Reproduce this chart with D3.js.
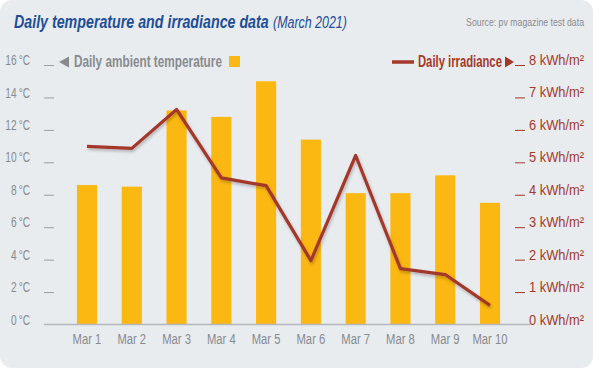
<html>
<head>
	<script src="https://d3js.org/d3.v7.min.js"></script>
</head>
<body>
	<style> *{
		margin: 0px;
		padding: 0px;
	}
	body { background: #ffffff; }
	text { font-family: "Liberation Sans", Arial, sans-serif; }
	</style>

	<svg id="chart" width="600" height="370" xmlns="http://www.w3.org/2000/svg"></svg>

	<script>
	// data
	var days = ["Mar 1", "Mar 2", "Mar 3", "Mar 4", "Mar 5", "Mar 6", "Mar 7", "Mar 8", "Mar 9", "Mar 10"];
	var temperature = [8.6, 8.5, 13.2, 12.8, 15.0, 11.4, 8.1, 8.1, 9.2, 7.5];
	var irradiance = [5.49, 5.43, 6.63, 4.52, 4.28, 1.97, 5.21, 1.72, 1.54, 0.59];
	var tempTicks = [0, 2, 4, 6, 8, 10, 12, 14, 16];
	var irrTicks = [0, 1, 2, 3, 4, 5, 6, 7, 8];

	var barColor = "#fcb812", lineColor = "#a3392a", grayText = "#878b8f";

	var svg = d3.select( "#chart" );

	// squeeze text horizontally (the original uses a condensed font),
	// keeping its anchor point in place
	function squeeze( selection, factor ) {
		selection.each( function() {
			var t = d3.select( this );
			var x0 = Number( t.attr( "x" ) ) || 0;
			t.attr( "x", x0 / factor ).attr( "transform", "scale(" + factor + ",1)" );
		} );
	}
	function fitWidth( selection, width ) {
		selection.each( function() {
			squeeze( d3.select( this ), width / this.getComputedTextLength() );
		} );
	}

	// shadow for the irradiance line
	var defs = svg.append( "defs" );
	var shadow = defs.append( "filter" ).attr( "id", "shadow" )
		.attr( "x", "-10%" ).attr( "y", "-10%" ).attr( "width", "120%" ).attr( "height", "130%" );
	shadow.append( "feDropShadow" )
		.attr( "dx", 1 ).attr( "dy", 2 ).attr( "stdDeviation", 1.5 )
		.attr( "flood-color", "#000" ).attr( "flood-opacity", 0.25 );

	// card background
	svg.append( "rect" )
		.attr( "x", 0 ).attr( "y", 0 )
		.attr( "width", 593 ).attr( "height", 368 )
		.attr( "rx", 12 )
		.attr( "fill", "#e9ecef" );

	// scales
	var x = d3.scaleBand()
		.domain( days )
		.range( [64.6, 512.4] )
		.paddingInner( 0.55 )
		.paddingOuter( 0.275 );
	var yTemp = d3.scaleLinear().domain( [0, 16] ).range( [324.5, 65] );
	var yIrr = d3.scaleLinear().domain( [0, 8] ).range( [324.5, 65] );

	// title and source
	svg.append( "text" )
		.attr( "x", 14 ).attr( "y", 28 )
		.attr( "font-size", 17.5 )
		.attr( "font-style", "italic" )
		.attr( "font-weight", "bold" )
		.attr( "fill", "#1d4f96" )
		.text( "Daily temperature and irradiance data" )
		.call( fitWidth, 255 );
	svg.append( "text" )
		.attr( "x", 273 ).attr( "y", 28 )
		.attr( "font-size", 17 )
		.attr( "font-style", "italic" )
		.attr( "fill", "#1d4f96" )
		.text( "(March 2021)" )
		.call( fitWidth, 74 );

	svg.append( "text" )
		.attr( "x", 584 ).attr( "y", 26 )
		.attr( "text-anchor", "end" )
		.attr( "font-size", 11 )
		.attr( "fill", grayText )
		.text( "Source: pv magazine test data" )
		.call( fitWidth, 118 );

	// bars
	svg.append( "g" ).selectAll( "rect" )
		.data( days )
		.enter().append( "rect" )
		.attr( "x", function( d ) { return x( d ); } )
		.attr( "y", function( d, i ) { return yTemp( temperature[i] ); } )
		.attr( "width", x.bandwidth() )
		.attr( "height", function( d, i ) { return yTemp( 0 ) - yTemp( temperature[i] ); } )
		.attr( "fill", barColor );

	// baseline
	svg.append( "line" )
		.attr( "x1", 44 ).attr( "x2", 530 )
		.attr( "y1", yTemp( 0 ) ).attr( "y2", yTemp( 0 ) )
		.attr( "stroke", "#b4b8bc" ).attr( "stroke-width", 1.5 );

	// left axis (temperature)
	var leftAxis = svg.append( "g" )
		.attr( "transform", "translate(54,0)" )
		.call( d3.axisLeft( yTemp ).tickValues( tempTicks ).tickSize( 10 ).tickPadding( 14 )
			.tickFormat( function( d ) { return d + "\u2009°C"; } ) );
	leftAxis.select( ".domain" ).remove();
	leftAxis.selectAll( "line" ).attr( "stroke", "#9a9ea2" )
		.attr( "display", function( d ) { return d == 0 ? "none" : null; } );
	leftAxis.selectAll( "text" )
		.attr( "dy", "0.25em" ).attr( "y", -4 )
		.attr( "font-size", 14.5 )
		.attr( "fill", grayText )
		.attr( "font-family", null )
		.call( squeeze, 0.7 );

	// right axis (irradiance)
	var rightAxis = svg.append( "g" )
		.attr( "transform", "translate(515,0)" )
		.call( d3.axisRight( yIrr ).tickValues( irrTicks ).tickSize( 10 ).tickPadding( 4 )
			.tickFormat( function( d ) { return d + " kWh/m²"; } ) );
	rightAxis.select( ".domain" ).remove();
	rightAxis.selectAll( "line" ).attr( "stroke", lineColor )
		.attr( "display", function( d ) { return d == 0 ? "none" : null; } );
	rightAxis.selectAll( "text" )
		.attr( "dy", "0.25em" ).attr( "y", -4 )
		.attr( "font-size", 14 )
		.attr( "fill", lineColor )
		.attr( "font-family", null )
		.call( fitWidth, 55 );

	// x axis labels
	svg.append( "g" ).selectAll( "text" )
		.data( days )
		.enter().append( "text" )
		.attr( "x", function( d ) { return x( d ) + x.bandwidth() / 2; } )
		.attr( "y", 344 )
		.attr( "text-anchor", "middle" )
		.attr( "font-size", 15 )
		.attr( "fill", grayText )
		.text( function( d ) { return d; } )
		.call( squeeze, 0.75 );

	// irradiance line
	var line = d3.line()
		.x( function( d, i ) { return x( days[i] ) + x.bandwidth() / 2; } )
		.y( function( d ) { return yIrr( d ); } );
	svg.append( "path" )
		.datum( irradiance )
		.attr( "d", line )
		.attr( "fill", "none" )
		.attr( "stroke", lineColor )
		.attr( "stroke-width", 3.2 )
		.attr( "stroke-linejoin", "round" )
		.attr( "filter", "url(#shadow)" );

	// legend left
	svg.append( "path" )
		.attr( "d", "M59,62 L69,56.5 L69,67.5 Z" )
		.attr( "fill", grayText );
	svg.append( "text" )
		.attr( "x", 74 ).attr( "y", 67 )
		.attr( "font-size", 16 )
		.attr( "font-weight", "bold" )
		.attr( "fill", grayText )
		.text( "Daily ambient temperature" )
		.call( fitWidth, 148 );
	svg.append( "rect" )
		.attr( "x", 229 ).attr( "y", 56 )
		.attr( "width", 11 ).attr( "height", 11 )
		.attr( "fill", barColor );

	// legend right
	svg.append( "line" )
		.attr( "x1", 392 ).attr( "x2", 414 )
		.attr( "y1", 62 ).attr( "y2", 62 )
		.attr( "stroke", lineColor ).attr( "stroke-width", 3.5 );
	svg.append( "text" )
		.attr( "x", 418 ).attr( "y", 67 )
		.attr( "font-size", 16 )
		.attr( "font-weight", "bold" )
		.attr( "fill", lineColor )
		.text( "Daily irradiance" )
		.call( fitWidth, 84 );
	svg.append( "path" )
		.attr( "d", "M505,56.5 L514,62 L505,67.5 Z" )
		.attr( "fill", lineColor );
	</script>

</body>
</html>
